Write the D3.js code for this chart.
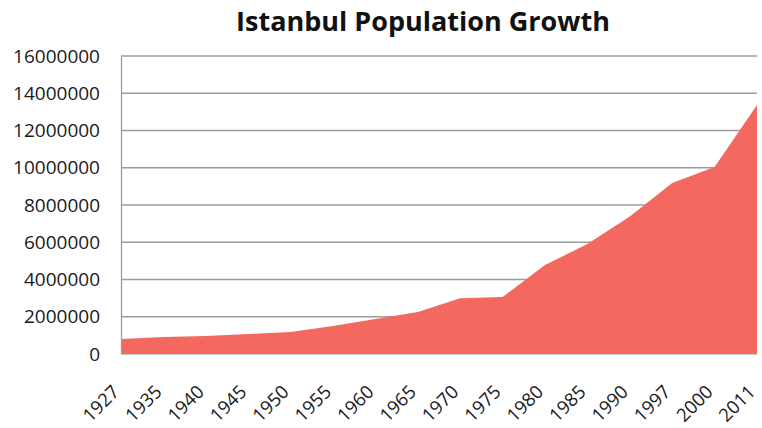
<!DOCTYPE html>
<html>
<head>
<meta charset="utf-8">
<script src="https://cdn.jsdelivr.net/npm/d3@7"></script>
<style>
  body { margin: 0; background: #fff; }
  .axis text { font-family: "Open Sans", sans-serif; font-size: 19px; fill: #1a1a1a; }
  .x-axis text { font-size: 18.5px; }
  .title { font-family: "Open Sans", sans-serif; font-size: 27px; font-weight: bold; fill: #111; }
</style>
</head>
<body>
<div id="chart"></div>
<script>
//************************************************************************
// data
//************************************************************************
var years = ["1927", "1935", "1940", "1945", "1950", "1955", "1960", "1965",
             "1970", "1975", "1980", "1985", "1990", "1997", "2000", "2011"];
var population = [800000, 910000, 970000, 1070000, 1180000, 1500000, 1880000, 2250000,
                  3000000, 3060000, 4780000, 5900000, 7380000, 9180000, 10040000, 13370000];
var yTicks = [0, 2000000, 4000000, 6000000, 8000000, 10000000, 12000000, 14000000, 16000000];

//************************************************************************
// display settings
//************************************************************************
var svgWidth = 762;
var svgHeight = 428;

var margin = {
    top: 56,
    right: 5,
    bottom: 74,
    left: 121,
};

var width = svgWidth - margin.left - margin.right;
var height = svgHeight - margin.top - margin.bottom;

var svg = d3.select("#chart")
  .append("svg")
  .attr("width", svgWidth)
  .attr("height", svgHeight);

var chart = svg.append("g")
  .attr("transform", `translate(${margin.left}, ${margin.top})`);

//************************************************************************
// scales
//************************************************************************
var xScale = d3.scalePoint()
  .domain(years)
  .range([0, width]);

var yScale = d3.scaleLinear()
  .domain([0, 16000000])
  .range([height, 0]);

//************************************************************************
// gridlines
//************************************************************************
chart.append("g")
  .selectAll("line")
  .data(yTicks.slice(1))
  .enter()
  .append("line")
  .attr("x1", 0)
  .attr("x2", width)
  .attr("y1", d => yScale(d))
  .attr("y2", d => yScale(d))
  .attr("stroke", "#9c9c9c")
  .attr("stroke-width", 1.3);

//************************************************************************
// area
//************************************************************************
var area = d3.area()
  .x((d, i) => xScale(years[i]))
  .y0(height)
  .y1(d => yScale(d));

chart.append("path")
  .datum(population)
  .attr("d", area)
  .attr("fill", "#f4695f");

//************************************************************************
// axes
//************************************************************************
var leftAxis = d3.axisLeft(yScale)
  .tickValues(yTicks)
  .tickFormat(d3.format("d"))
  .tickSize(0)
  .tickPadding(21);

var yAxis = chart.append("g")
  .attr("class", "axis")
  .call(leftAxis);
yAxis.select(".domain").attr("stroke", "#9c9c9c").attr("stroke-width", 1.3);

var bottomAxis = d3.axisBottom(xScale)
  .tickSize(0)
  .tickPadding(0);

var xAxis = chart.append("g")
  .attr("class", "axis x-axis")
  .attr("transform", `translate(0, ${height})`)
  .call(bottomAxis);
xAxis.select(".domain").attr("stroke", "#c9c9c9").attr("stroke-width", 1);

xAxis.selectAll("text")
  .attr("text-anchor", "end")
  .attr("dy", 0)
  .attr("transform", "translate(-1, 39) rotate(-45)");

//************************************************************************
// title
//************************************************************************
svg.append("text")
  .attr("class", "title")
  .attr("x", 423)
  .attr("y", 31)
  .attr("text-anchor", "middle")
  .text("Istanbul Population Growth");
</script>
</body>
</html>
